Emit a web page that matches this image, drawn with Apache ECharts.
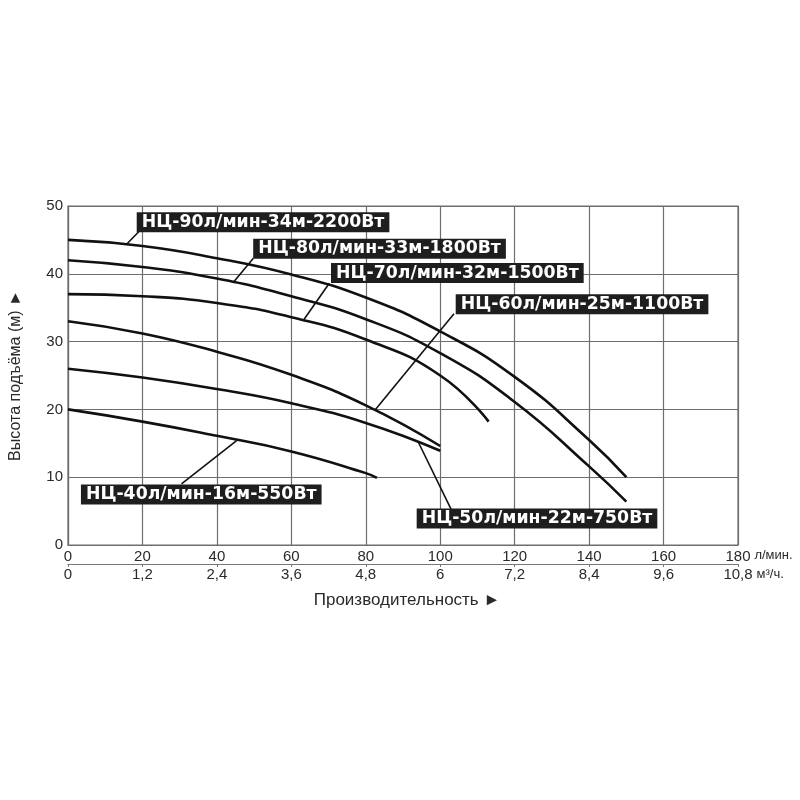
<!DOCTYPE html>
<html><head><meta charset="utf-8">
<script src="https://cdn.jsdelivr.net/npm/echarts@6/dist/echarts.min.js"></script>
<style>html,body{margin:0;padding:0;background:#fff}#c{width:800px;height:800px}</style>
</head><body><div id="c"></div>
<script>
// ---- data (flow, л/мин ; head, м) ----
const pumpLabels = [
  'НЦ-90л/мин-34м-2200Вт',
  'НЦ-80л/мин-33м-1800Вт',
  'НЦ-70л/мин-32м-1500Вт',
  'НЦ-60л/мин-25м-1100Вт',
  'НЦ-50л/мин-22м-750Вт',
  'НЦ-40л/мин-16м-550Вт'
];
const pump90 = [[0,45],[20,44.1],[40,42.3],[60,39.9],[80,36.5],[100,31.5],[120,24.8],[140,15.5],[150,10]];
const pump80 = [[0,42],[20,41],[40,39.3],[60,36.7],[80,33.3],[100,28.3],[120,21.1],[140,11.6],[150,6.4]];
const pump70 = [[0,37],[20,36.7],[40,35.7],[60,33.6],[80,30.3],[100,25.0],[113,18.2]];
const pump60 = [[0,33],[20,31.2],[40,28.5],[60,25.1],[80,20.6],[100,14.6]];
const pump50 = [[0,26],[20,24.7],[40,23.0],[60,20.9],[80,18.0],[100,13.9]];
const pump40 = [[0,20],[20,18.2],[40,16.1],[60,13.8],[80,10.6],[83,9.9]];
// points on each curve where the label leader touches it
const leaderAnchors = [[15.8,44.4],[44.5,38.8],[63.2,33.1],[82.6,20.0],[94,15.3],[45.3,15.4]];
const flowUnit = 'л/мин.';
const volUnit = 'м³/ч.';
const xTitle = 'Производительность ►';
const yTitle = 'Высота подъёма (м) ►';

// ---- layout (data-space placement of label boxes) ----
const boxCenters = [[52.4,47.6],[83.7,43.7],[104.6,40.1],[138.1,35.5],[126.0,3.9],[35.8,7.45]];
const leaderStarts = [[19.0,46.2],[49.8,42.3],[70.2,38.6],[103.7,34.1],[102.9,5.3],[30.5,9.0]];

const curves = [pump90, pump80, pump70, pump60, pump50, pump40];
const GRIDC = '#6e6e6e';
const TXT = '#2a2a2a';
const FONT = '"Liberation Sans", Arial, sans-serif';

const chart = echarts.init(document.getElementById('c'));
const series = curves.map((d, i) => ({
  type: 'line',
  data: d,
  xAxisIndex: 0,
  smooth: 0.5,
  showSymbol: false,
  silent: true,
  animation: false,
  lineStyle: { color: '#111', width: 2.6 },
  markLine: {
    silent: true, animation: false,
    symbol: ['none', 'none'],
    label: { show: false },
    lineStyle: { color: '#111', width: 1.6, type: 'solid' },
    data: [[{ coord: leaderStarts[i] }, { coord: leaderAnchors[i] }]]
  },
  markPoint: {
    silent: true, animation: false,
    symbol: 'rect', symbolSize: 0,
    data: [{ coord: boxCenters[i], name: pumpLabels[i] }],
    label: {
      show: true, position: 'inside',
      formatter: pumpLabels[i],
      color: '#fff', backgroundColor: '#1e1e1e',
      fontFamily: '"DejaVu Sans", Verdana, sans-serif',
      fontWeight: 'bold', fontSize: 17.3,
      padding: [2, 5, 1, 5]
    }
  }
}));

const fmtComma = v => {
  const n = Number(v.toFixed(1));
  return String(n).replace('.', ',');
};

chart.setOption({
  backgroundColor: '#fff',
  animation: false,
  title: {
    text: xTitle, left: 402, top: 587, textAlign: 'center',
    textStyle: { fontFamily: FONT, fontWeight: 'normal', fontSize: 17, color: TXT }
  },
  grid: { left: 66, right: 62, top: 206, bottom: 255, show: true, borderColor: GRIDC, borderWidth: 1.2 },
  xAxis: [{
    type: 'value', min: 0, max: 180, interval: 20, position: 'bottom',
    axisLine: { show: true, lineStyle: { color: GRIDC, width: 1.2 } },
    axisTick: { show: false },
    splitLine: { show: true, lineStyle: { color: GRIDC, width: 1.2 } },
    axisLabel: { margin: 4, fontFamily: FONT, fontSize: 15, color: TXT },
    name: flowUnit, nameLocation: 'end', nameGap: 15,
    nameTextStyle: { fontFamily: FONT, fontSize: 13, color: TXT, verticalAlign: 'top', padding: [4, 0, 0, 0] }
  }, {
    type: 'value', min: 0, max: 10.8, interval: 1.2, position: 'bottom', offset: 19,
    axisLine: { show: true, lineStyle: { color: '#777', width: 1.2 } },
    axisTick: { show: true, length: 3, lineStyle: { color: '#777' } },
    splitLine: { show: false },
    axisLabel: { margin: 3, fontFamily: FONT, fontSize: 15, color: TXT, formatter: fmtComma },
    name: volUnit, nameLocation: 'end', nameGap: 10,
    nameTextStyle: { fontFamily: FONT, fontSize: 13, color: TXT, verticalAlign: 'top', padding: [4, 0, 0, 0] }
  }],
  yAxis: {
    type: 'value', min: 0, max: 50, interval: 10,
    axisLine: { show: true, lineStyle: { color: GRIDC, width: 1.2 } },
    axisTick: { show: false },
    splitLine: { show: true, lineStyle: { color: GRIDC, width: 1.2 } },
    axisLabel: { margin: 5, fontFamily: FONT, fontSize: 15, color: TXT },
    name: yTitle, nameLocation: 'middle', nameRotate: 90, nameGap: 44,
    nameTextStyle: { fontFamily: FONT, fontSize: 16, color: TXT }
  },
  series: series
});
</script>
</body></html>
